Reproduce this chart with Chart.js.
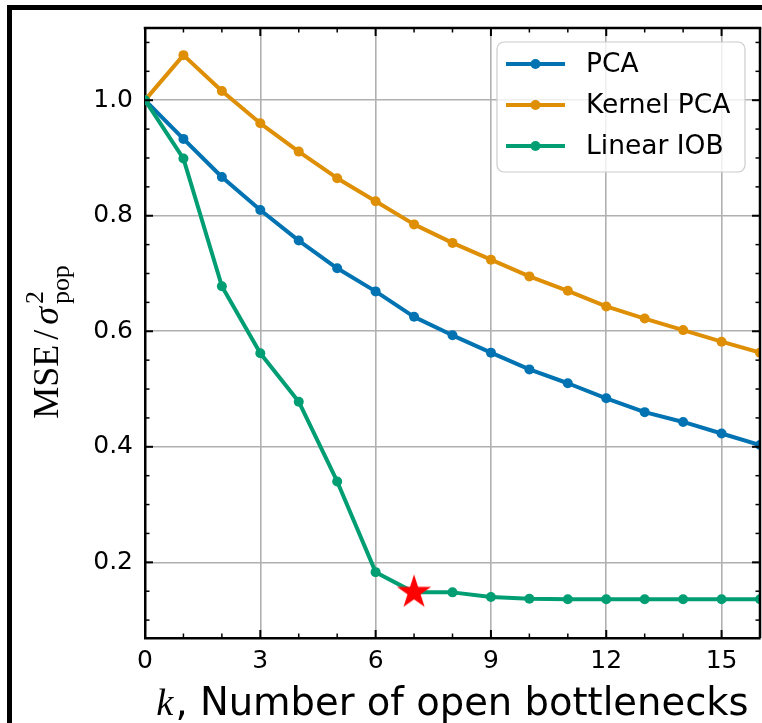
<!DOCTYPE html>
<html>
<head>
<meta charset="utf-8">
<script src="https://cdn.jsdelivr.net/npm/chart.js@4.4.0/dist/chart.umd.min.js"></script>
<style>
  html, body { margin: 0; padding: 0; background: #fff; overflow: hidden; width: 762px; height: 723px; }
  #wrap { position: relative; width: 762px; height: 723px; overflow: hidden; }
  #frame { position: absolute; left: 7px; top: 5px; width: 900px; height: 900px;
           border-left: 5px solid #000; border-top: 5px solid #000; pointer-events: none; }
  canvas { position: absolute; left: 0; top: 0; }
</style>
</head>
<body>
<div id="wrap">
  <canvas id="chart" width="762" height="723"></canvas>
  <div id="frame"></div>
</div>
<script>
// values
const kValues = [0, 1, 2, 3, 4, 5, 6, 7, 8, 9, 10, 11, 12, 13, 14, 15, 16];
const pcaMse = [1.000, 0.933, 0.867, 0.810, 0.757, 0.709, 0.669, 0.625, 0.593, 0.563, 0.534, 0.510, 0.484, 0.460, 0.443, 0.423, 0.403];
const kernelPcaMse = [1.000, 1.078, 1.016, 0.960, 0.911, 0.865, 0.825, 0.785, 0.753, 0.724, 0.695, 0.670, 0.643, 0.622, 0.602, 0.582, 0.563];
const linearIobMse = [1.000, 0.899, 0.678, 0.562, 0.478, 0.340, 0.183, 0.148, 0.148, 0.140, 0.137, 0.136, 0.136, 0.136, 0.136, 0.136, 0.136];
const seriesLabels = ['PCA', 'Kernel PCA', 'Linear IOB'];
const seriesColors = ['#0173b2', '#de8f05', '#029e73'];
const bestK = [7];
const bestMse = [0.148];

const xTickValues = [0, 3, 6, 9, 12, 15];
const yTickValues = [0.2, 0.4, 0.6, 0.8, 1.0];
const xLimits = [0, 16];
const yLimits = [0.069, 1.125];
const xMinorStep = 1;
const yMinorStep = 0.05;

function toPoints(xs, ys) {
    return xs.map((x, i) => ({ x: x, y: ys[i] }));
}

// filled star marker (the library's own 'star' is only an asterisk)
function makeStar(r, color) {
    const size = Math.ceil(r * 2) + 2;
    const c = document.createElement('canvas');
    c.width = size; c.height = size;
    const g = c.getContext('2d');
    const cx = size / 2, cy = size / 2;
    const inner = r * 0.382;
    g.beginPath();
    for (let i = 0; i < 10; i++) {
        const rad = i % 2 === 0 ? r : inner;
        const a = -Math.PI / 2 + i * Math.PI / 5;
        const px = cx + rad * Math.cos(a), py = cy + rad * Math.sin(a);
        if (i === 0) g.moveTo(px, py); else g.lineTo(px, py);
    }
    g.closePath();
    g.fillStyle = color;
    g.fill();
    return c;
}

function lineDataset(label, values, color, order) {
    return {
        label: label,
        data: toPoints(kValues, values),
        borderColor: color,
        backgroundColor: color,
        borderWidth: 4,
        borderJoinStyle: 'round',
        pointRadius: 5,
        pointBorderWidth: 0,
        pointBackgroundColor: color,
        tension: 0,
        clip: 0,
        order: order
    };
}

function strokeLine(ctx, x1, y1, x2, y2) {
    ctx.beginPath();
    ctx.moveTo(x1, y1);
    ctx.lineTo(x2, y2);
    ctx.stroke();
}

// inward ticks on all four sides + top/right spines
const tickMarks = {
    id: 'tickMarks',
    afterDatasetsDraw(chart) {
        const { ctx, chartArea: a, scales: { x, y } } = chart;
        ctx.save();
        ctx.strokeStyle = '#000';
        for (let v = xLimits[0]; v <= xLimits[1] + 1e-9; v += xMinorStep) {
            const major = xTickValues.includes(v);
            const px = x.getPixelForValue(v);
            const len = major ? 8 : 4.5;
            ctx.lineWidth = major ? 2 : 1.5;
            strokeLine(ctx, px, a.bottom, px, a.bottom - len);
            strokeLine(ctx, px, a.top, px, a.top + len);
        }
        const start = Math.ceil(yLimits[0] / yMinorStep) * yMinorStep;
        for (let i = 0; ; i++) {
            const v = +(start + i * yMinorStep).toFixed(4);
            if (v > yLimits[1]) break;
            const major = yTickValues.some(t => Math.abs(t - v) < 1e-6);
            const py = y.getPixelForValue(v);
            const len = major ? 8 : 4.5;
            ctx.lineWidth = major ? 2 : 1.5;
            strokeLine(ctx, a.left, py, a.left + len, py);
            strokeLine(ctx, a.right, py, a.right - len, py);
        }
        ctx.lineWidth = 2.5;
        strokeLine(ctx, a.left - 1.25, a.top, a.right + 1.25, a.top);
        strokeLine(ctx, a.right, a.top, a.right, a.bottom);
        ctx.restore();
    }
};

// legend box in the upper right of the plot
const insideLegend = {
    id: 'insideLegend',
    afterDraw(chart) {
        const { ctx, chartArea: a } = chart;
        const w = 248, h = 130;
        const bx = a.right - 15 - w, by = a.top + 14;
        ctx.save();
        ctx.beginPath();
        ctx.roundRect(bx, by, w, h, 7);
        ctx.fillStyle = 'rgba(255,255,255,0.8)';
        ctx.fill();
        ctx.strokeStyle = '#cccccc';
        ctx.lineWidth = 1.2;
        ctx.stroke();
        ctx.font = '26.5px "DejaVu Sans"';
        ctx.textBaseline = 'middle';
        seriesLabels.forEach((lab, i) => {
            const ry = by + 22 + i * 41;
            ctx.strokeStyle = seriesColors[i];
            ctx.lineWidth = 4;
            strokeLine(ctx, bx + 9, ry, bx + 68, ry);
            ctx.beginPath();
            ctx.arc(bx + 38.5, ry, 5, 0, Math.PI * 2);
            ctx.fillStyle = seriesColors[i];
            ctx.fill();
            ctx.fillStyle = '#000';
            ctx.fillText(lab, bx + 89, ry + 1);
        });
        ctx.restore();
    }
};

// axis titles with math parts
const axisTitles = {
    id: 'axisTitles',
    afterDraw(chart) {
        const { ctx, chartArea: a } = chart;
        ctx.save();
        ctx.fillStyle = '#000';
        ctx.textBaseline = 'alphabetic';

        // x title: "k, Number of open bottlenecks"
        const fx = 38.5;
        const kFont = 'italic ' + fx + 'px "Liberation Serif"';
        const restFont = fx + 'px "DejaVu Sans"';
        const rest = ', Number of open bottlenecks';
        ctx.font = kFont;
        const wk = ctx.measureText('k').width + 2;
        ctx.font = restFont;
        const wr = ctx.measureText(rest).width;
        const x0 = (a.left + a.right) / 2 - (wk + wr) / 2;
        const baseX = 715;
        ctx.font = kFont;
        ctx.fillText('k', x0, baseX);
        ctx.font = restFont;
        ctx.fillText(rest, x0 + wk, baseX);

        // y title: MSE / sigma^2_pop, rotated
        const f = 36;
        const big = f + 'px "Liberation Serif"';
        const bigIt = 'italic ' + f + 'px "Liberation Serif"';
        const small = (f * 0.72) + 'px "Liberation Serif"';
        const gap = 5;
        ctx.font = big;
        const wMse = ctx.measureText('MSE').width;
        const wSl = ctx.measureText('/').width;
        ctx.font = bigIt; const wSig = ctx.measureText('\u03c3').width + 3;
        ctx.font = small; const wSub = Math.max(ctx.measureText('pop').width, ctx.measureText('2').width);
        const total = wMse + gap + wSl + gap + wSig + wSub;
        ctx.translate(58, (a.top + a.bottom) / 2 + 9);
        ctx.rotate(-Math.PI / 2);
        let u = -total / 2;
        ctx.font = big;
        ctx.fillText('MSE', u, 0); u += wMse + gap;
        ctx.fillText('/', u, 0); u += wSl + gap;
        ctx.font = bigIt; ctx.fillText('\u03c3', u, 0); u += wSig;
        ctx.font = small;
        ctx.fillText('2', u, -f * 0.42);
        ctx.fillText('pop', u, f * 0.3);
        ctx.restore();
    }
};

const ctx = document.getElementById('chart').getContext('2d');
new Chart(ctx, {
    type: 'line',
    data: {
        datasets: [
            {
                label: 'best k',
                data: toPoints(bestK, bestMse),
                showLine: false,
                pointStyle: makeStar(18, '#ff0000'),
                pointRadius: 18,
                clip: 0,
                order: 0
            },
            lineDataset(seriesLabels[2], linearIobMse, seriesColors[2], 1),
            lineDataset(seriesLabels[1], kernelPcaMse, seriesColors[1], 2),
            lineDataset(seriesLabels[0], pcaMse, seriesColors[0], 3)
        ]
    },
    options: {
        responsive: false,
        animation: false,
        devicePixelRatio: 1,
        events: [],
        layout: { autoPadding: false, padding: { top: 28, right: 2, left: 0, bottom: 0 } },
        plugins: {
            legend: { display: false },
            tooltip: { enabled: false }
        },
        scales: {
            x: {
                type: 'linear',
                min: xLimits[0],
                max: xLimits[1],
                afterBuildTicks: s => { s.ticks = xTickValues.map(v => ({ value: v })); },
                afterFit: s => { s.height = 85; s.paddingLeft = 0; s.paddingRight = 0; },
                grid: { color: '#b0b0b0', lineWidth: 1.6, drawTicks: false },
                border: { color: '#000', width: 2.5 },
                ticks: {
                    padding: 8,
                    color: '#000',
                    maxRotation: 0,
                    autoSkip: false,
                    font: { family: 'DejaVu Sans', size: 25 },
                    callback: v => String(v)
                }
            },
            y: {
                type: 'linear',
                min: yLimits[0],
                max: yLimits[1],
                afterBuildTicks: s => { s.ticks = yTickValues.map(v => ({ value: v })); },
                afterFit: s => { s.width = 145; s.paddingTop = 0; s.paddingBottom = 0; },
                grid: { color: '#b0b0b0', lineWidth: 1.6, drawTicks: false },
                border: { color: '#000', width: 2.5 },
                ticks: {
                    padding: 12,
                    color: '#000',
                    font: { family: 'DejaVu Sans', size: 25 },
                    callback: v => v.toFixed(1)
                }
            }
        }
    },
    plugins: [tickMarks, insideLegend, axisTitles]
});
</script>
</body>
</html>
